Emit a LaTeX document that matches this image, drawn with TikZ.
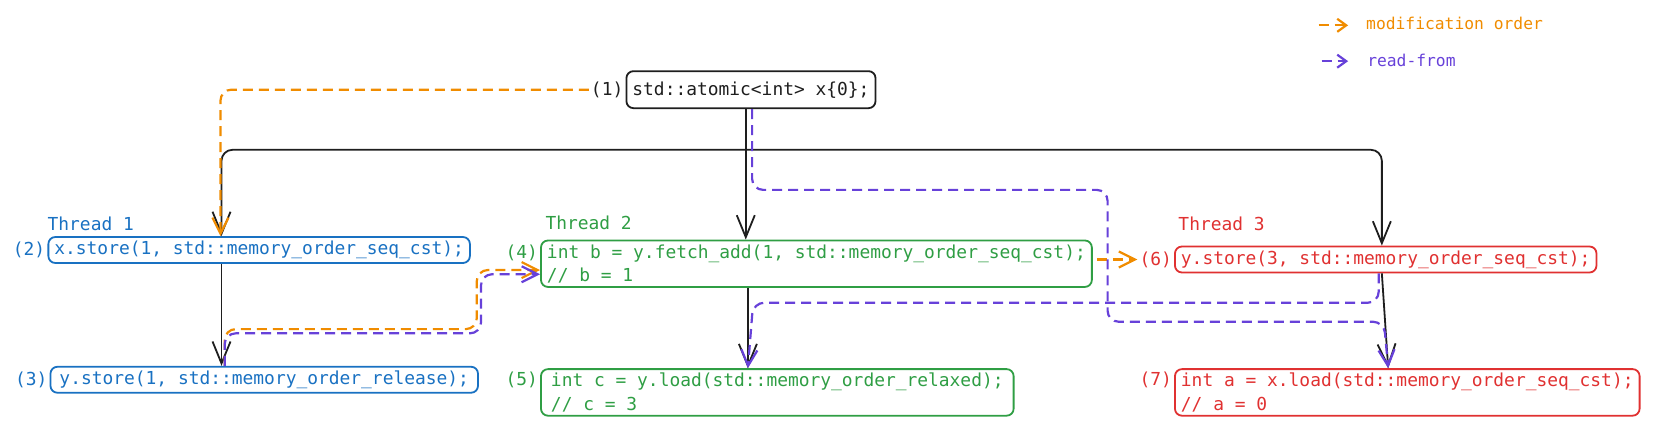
\documentclass[tikz,border=0pt]{standalone}
\usepackage{fontspec}
\setmonofont{DejaVu Sans Mono}
\usetikzlibrary{arrows.meta,calc}
\definecolor{ink}{HTML}{1E1E1E}
\definecolor{tblue}{HTML}{1971C2}
\definecolor{tgreen}{HTML}{2F9E44}
\definecolor{tred}{HTML}{E03131}
\definecolor{morder}{HTML}{F08C00}
\definecolor{rfrom}{HTML}{6741D9}
\begin{document}
\begin{tikzpicture}[x=1.0548pt,y=-1.0548pt,
  font=\fontsize{17.9}{23.2}\selectfont\ttfamily,
  code/.style={draw=#1,text=#1,line width=1.8pt,rounded corners=7pt,inner xsep=6pt,inner ysep=4pt,minimum height=26pt,anchor=west,align=left},
  num/.style={text=#1,anchor=east,inner sep=2pt},
  head/.style={text=#1,anchor=west,inner sep=0pt},
  flow/.style={draw=ink,line width=1.8pt,-{Straight Barb[length=22pt,width=18pt]}},
  mo/.style={draw=morder,line width=2.2pt,dash pattern=on 10pt off 6pt,rounded corners=11pt,-{Straight Barb[length=16pt,width=16pt]}},
  rf/.style={draw=rfrom,line width=2.2pt,dash pattern=on 10pt off 6pt,rounded corners=11pt,-{Straight Barb[length=16pt,width=16pt]}}]
\useasboundingbox (0,0) rectangle (1568,408.6);

\node[code=ink,minimum height=37pt] (n1) at (593,85) {std::atomic<int> x\{0\};};
\node[num=ink] (l1) at (n1.west) {(1)};

\node[head=tblue] (t1) at (45,212) {Thread 1};
\node[code=tblue] (n2) at (45,237) {x.store(1, std::memory\_order\_seq\_cst);};
\node[num=tblue] (l2) at (n2.west) {(2)};
\node[code=tblue,inner xsep=9pt] (n3) at (47,360) {y.store(1, std::memory\_order\_release);};
\node[num=tblue] (l3) at (n3.west) {(3)};

\node[head=tgreen] (t2) at (517,211) {Thread 2};
\node[code=tgreen] (n4) at (512,250) {int b = y.fetch\_add(1, std::memory\_order\_seq\_cst);\\// b = 1};
\node[num=tgreen] (l4) at ($(n4.west)+(0,-10)$) {(4)};
\node[code=tgreen,inner xsep=10pt] (n5) at (512,372) {int c = y.load(std::memory\_order\_relaxed);\\// c = 3};
\node[num=tgreen] (l5) at ($(n5.west)+(0,-12)$) {(5)};

\node[head=tred] (t3) at (1117,212) {Thread 3};
\node[code=tred] (n6) at (1113,246) {y.store(3, std::memory\_order\_seq\_cst);};
\node[num=tred] (l6) at (n6.west) {(6)};
\node[code=tred] (n7) at (1113,372) {int a = x.load(std::memory\_order\_seq\_cst);\\// a = 0};
\node[num=tred] (l7) at ($(n7.west)+(0,-12)$) {(7)};

\node[head=morder,font=\fontsize{16.3}{19}\selectfont\ttfamily] (lg1) at (1295,22) {modification order};
\node[head=rfrom,font=\fontsize{16.3}{19}\selectfont\ttfamily] (lg2) at (1296,57) {read-from};
\coordinate (lm) at (1250,24);
\coordinate (lr) at (1253,58);

\coordinate (ta) at (210,142);
\coordinate (tb) at (707,142);
\coordinate (tc) at (1310,142);

\draw[flow] (tb |- n1.south) -- (tb |- n4.north);
\draw[flow,rounded corners=11pt] (tb) -| (ta |- n2.north);
\draw[flow,rounded corners=11pt] (tb) -| (tc |- n6.north);
\draw[flow] (ta |- n2.south) -- (ta |- n3.north);
\draw[flow] ($(tb |- n4.south)+(2,0)$) -- ($(tb |- n5.north)+(2,0)$);
\draw[flow] (tc |- n6.south) -- ($(tc |- n7.north)+(6,0)$);

\draw[mo] (l1.west) -| ($(ta |- n2.north)+(-1,0)$);
\draw[mo] ($(ta |- n3.north)+(3,0)$) |- (452,312) |- ($(n4.west)+(0,6)$);
\draw[mo] ($(n4.east |- l6)+(4,0)$) -- (l6.west);
\draw[rf] ($(ta |- n3.north)+(3,0)$) |- (456,316) |- ($(n4.west)+(0,10)$);
\draw[rf] ($(tb |- n1.south)+(6,0)$) |- (1050,180) |- (1312,305) -- ($(tc |- n7.north)+(6,0)$);
\draw[rf] ($(tc |- n6.south)+(-3,0)$) |- (714,287) -- ($(tb |- n5.north)+(2,0)$);

\draw[mo,-{Straight Barb[length=9pt,width=13pt]}] (lm) -- ($(lm)+(28,0)$);
\draw[rf,-{Straight Barb[length=9pt,width=13pt]}] (lr) -- ($(lr)+(25,0)$);
\end{tikzpicture}
\end{document}
